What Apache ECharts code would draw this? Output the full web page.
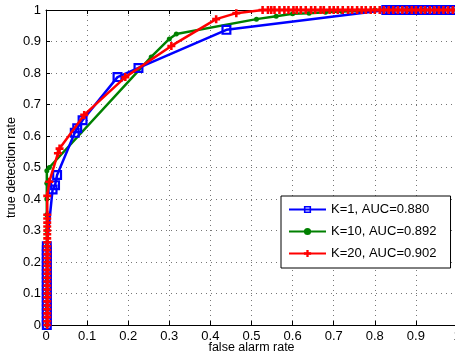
<!DOCTYPE html>
<html>
<head>
<meta charset="utf-8">
<script src="https://cdn.jsdelivr.net/npm/echarts@6/dist/echarts.min.js"></script>
<style>
  html, body { margin: 0; padding: 0; background: #fff; }
  #chart { width: 455px; height: 356px; }
</style>
</head>
<body>
<div id="chart"></div>
<script>
// ROC curves
const k1Fpr = [
  0.002, 0.002, 0.002, 0.002, 0.002, 0.002, 0.002, 0.002, 0.002, 0.002, 0.002,
  0.002, 0.002, 0.002, 0.002, 0.002, 0.002, 0.002, 0.002, 0.002, 0.002,
  0.016, 0.022, 0.027, 0.07, 0.076, 0.089, 0.174, 0.225, 0.439,
  0.828, 0.838, 0.848, 0.857, 0.866, 0.876, 0.885, 0.895, 0.904, 0.914,
  0.923, 0.933, 0.942, 0.952, 0.961, 0.971, 0.98, 0.99, 1.0
]
const k1Tpr = [
  0, 0.012, 0.025, 0.037, 0.05, 0.062, 0.075, 0.087, 0.1, 0.112, 0.125,
  0.137, 0.15, 0.162, 0.175, 0.187, 0.2, 0.212, 0.225, 0.237, 0.25,
  0.43, 0.444, 0.476, 0.61, 0.625, 0.65, 0.787, 0.816, 0.937,
  1, 1, 1, 1, 1, 1, 1, 1, 1, 1,
  1, 1, 1, 1, 1, 1, 1, 1, 1
]

const k10Fpr = [
  0.002, 0.002, 0.002, 0.002, 0.002, 0.002, 0.002, 0.002, 0.002, 0.002, 0.002,
  0.008, 0.256, 0.3, 0.317, 0.512,
  0.56, 0.6, 0.64, 0.68, 0.72, 0.76, 0.8, 0.84, 0.88, 0.92, 0.96, 1.0
]
const k10Tpr = [
  0, 0.05, 0.1, 0.15, 0.2, 0.25, 0.3, 0.35, 0.4, 0.45, 0.49,
  0.5, 0.851, 0.908, 0.924, 0.971,
  0.98, 0.988, 0.99, 0.993, 0.995, 0.997, 1, 1, 1, 1, 1, 1
]

const k20Fpr = [
  0.003, 0.003, 0.003, 0.003, 0.003, 0.003, 0.003, 0.003, 0.003, 0.003,
  0.003, 0.003, 0.003, 0.003, 0.003, 0.003, 0.003, 0.003, 0.003, 0.003,
  0.003, 0.003, 0.003, 0.003, 0.003, 0.003, 0.003, 0.003, 0.003,
  0.003, 0.008, 0.029, 0.033, 0.093, 0.193, 0.305, 0.414, 0.463,
  0.527, 0.54, 0.548, 0.556, 0.568, 0.58, 0.59, 0.602, 0.61, 0.62,
  0.632, 0.645, 0.655, 0.668, 0.676, 0.69, 0.7, 0.71, 0.722, 0.735,
  0.745, 0.757, 0.768, 0.778, 0.79, 0.8, 0.812, 0.822, 0.834, 0.845,
  0.856, 0.867, 0.878, 0.89, 0.9, 0.912, 0.922, 0.934, 0.945, 0.956,
  0.967, 0.978, 0.99, 1.0
]
const k20Tpr = [
  0, 0.012, 0.025, 0.037, 0.05, 0.062, 0.075, 0.088, 0.1, 0.113,
  0.125, 0.138, 0.15, 0.163, 0.175, 0.188, 0.2, 0.213, 0.225, 0.238,
  0.25, 0.263, 0.275, 0.288, 0.3, 0.313, 0.325, 0.338, 0.35,
  0.41, 0.455, 0.545, 0.56, 0.667, 0.787, 0.886, 0.971, 0.99,
  1, 1, 1, 1, 1, 1, 1, 1, 1, 1,
  1, 1, 1, 1, 1, 1, 1, 1, 1, 1,
  1, 1, 1, 1, 1, 1, 1, 1, 1, 1,
  1, 1, 1, 1, 1, 1, 1, 1, 1, 1,
  1, 1, 1, 1
]

const seriesNames = ['K=1, AUC=0.880', 'K=10, AUC=0.892', 'K=20, AUC=0.902']
const tickLabels = ['0', '0.1', '0.2', '0.3', '0.4', '0.5', '0.6', '0.7', '0.8', '0.9', '1']

const pairs = (xs, ys) => xs.map((x, i) => [x, ys[i]])
const fmt = (v) => tickLabels[Math.round(v * 10)]

const font = 'Liberation Sans, Arial, sans-serif'
const squareIcon = 'path://M0,0H10V10H0Z M2.2,2.2V7.8H7.8V2.2Z'
const plusIcon = 'path://M3.4,0H6.6V3.4H10V6.6H6.6V10H3.4V6.6H0V3.4H3.4Z'

const gridDots = { show: true, lineStyle: { color: '#777', type: [1, 4], width: 1 } }

const chart = echarts.init(document.getElementById('chart'), null, { renderer: 'canvas' })

chart.setOption({
  animation: false,
  backgroundColor: '#fff',
  textStyle: { fontFamily: font, color: '#000' },
  grid: { left: 46, right: -2, top: 10, bottom: 31, containLabel: false, outerBoundsMode: 'none' },
  legend: {
    orient: 'vertical',
    left: 281,
    top: 196,
    data: seriesNames,
    backgroundColor: '#fff',
    borderColor: '#000',
    borderWidth: 1,
    borderRadius: 0,
    padding: [7, 14, 8, 7],
    itemWidth: 37,
    itemHeight: 9,
    itemGap: 9,
    textStyle: { fontFamily: font, fontSize: 13, color: '#000' }
  },
  xAxis: [
    {
      type: 'value',
      min: 0,
      max: 1,
      interval: 0.1,
      name: 'false alarm rate',
      nameLocation: 'middle',
      nameGap: 16,
      nameMoveOverlap: false,
      nameTextStyle: { fontFamily: font, fontSize: 12.5, color: '#000', verticalAlign: 'top' },
      axisLine: { show: true, onZero: false, lineStyle: { color: '#000', width: 1 } },
      axisTick: { show: true, inside: true, length: 4, lineStyle: { color: '#000' } },
      axisLabel: { formatter: fmt, fontFamily: font, fontSize: 13, color: '#000', margin: 5 },
      splitLine: gridDots
    },
    {
      type: 'value',
      position: 'top',
      min: 0,
      max: 1,
      interval: 0.1,
      axisLine: { show: true, onZero: false, lineStyle: { color: '#000', width: 1 } },
      axisTick: { show: true, inside: true, length: 4, lineStyle: { color: '#000' } },
      axisLabel: { show: false },
      splitLine: { show: false }
    }
  ],
  yAxis: {
    type: 'value',
    min: 0,
    max: 1,
    interval: 0.1,
    name: 'true detection rate',
    nameLocation: 'middle',
    nameGap: 28,
    nameMoveOverlap: false,
    nameTextStyle: { fontFamily: font, fontSize: 12.5, color: '#000' },
    axisLine: { show: true, onZero: false, lineStyle: { color: '#000', width: 1 } },
    axisTick: { show: true, inside: true, length: 4, lineStyle: { color: '#000' } },
    axisLabel: { formatter: fmt, fontFamily: font, fontSize: 13, color: '#000', margin: 5 },
    splitLine: gridDots
  },
  series: [
    {
      name: seriesNames[0],
      type: 'line',
      z: 3,
      clip: false,
      data: pairs(k1Fpr, k1Tpr),
      symbol: squareIcon,
      symbolSize: 10,
      color: '#0000ff',
      lineStyle: { color: '#0000ff', width: 2.5 },
      itemStyle: { color: '#0000ff' }
    },
    {
      name: seriesNames[1],
      type: 'line',
      z: 2,
      clip: false,
      data: pairs(k10Fpr, k10Tpr),
      symbol: 'circle',
      symbolSize: 5,
      color: '#008000',
      lineStyle: { color: '#008000', width: 2.5 },
      itemStyle: { color: '#008000' }
    },
    {
      name: seriesNames[2],
      type: 'line',
      z: 4,
      clip: false,
      data: pairs(k20Fpr, k20Tpr),
      symbol: plusIcon,
      symbolSize: 8,
      color: '#ff0000',
      lineStyle: { color: '#ff0000', width: 2.5 },
      itemStyle: { color: '#ff0000' }
    }
  ]
})
</script>
</body>
</html>
